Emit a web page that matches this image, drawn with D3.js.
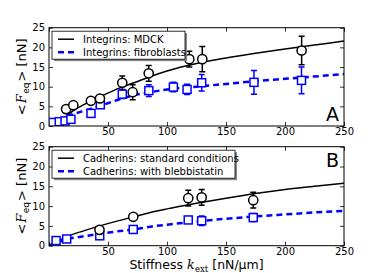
<!DOCTYPE html>
<html>
<head>
<meta charset="utf-8">
<script src="https://cdn.jsdelivr.net/npm/d3@7"></script>
<style>
  body { margin: 0; background: #fff; }
  text { font-family: "DejaVu Sans", sans-serif; }
</style>
</head>
<body>
<div id="container"></div>
<script>
/* CONSTANTS AND GLOBALS */
const width = 382,
  height = 273,
  margin = { left: 49, right: 38 },
  panels = [{ top: 27.7, bottom: 126 }, { top: 146.7, bottom: 245.7 }];

/* DATA */
// panel A - integrins
const mdckK = [14.5, 20.6, 35.5, 43.2, 62.1, 70.9, 84.5, 118.9, 129.9, 214.1];
const mdckF = [4.3, 5.3, 6.4, 7.0, 11.0, 8.6, 13.4, 17.0, 17.0, 19.2];
const mdckErr = [0.3, 0.3, 0.3, 0.4, 1.7, 1.9, 2.0, 2.0, 3.2, 3.6];
const fibroK = [3.1, 8.7, 13.6, 18.6, 35.6, 43.5, 62.1, 84.6, 105.4, 117.0, 129.4, 173.7, 214.0];
const fibroF = [0.9, 1.1, 1.3, 1.7, 3.2, 5.4, 8.1, 9.0, 9.9, 9.3, 11.0, 11.1, 11.6];
const fibroErr = [0.2, 0.2, 0.2, 0.3, 0.4, 0.5, 1.1, 1.5, 1.2, 1.3, 2.1, 3.0, 3.4];
const fitAK = [6, 10, 15, 20, 30, 43, 60, 72, 86, 100, 125, 150, 175, 200, 225, 250];
const fitMdck = [0, 1.2, 2.6, 3.8, 5.5, 7.4, 9.7, 11.0, 12.6, 14.0, 15.9, 17.3, 18.5, 19.6, 20.6, 21.6];
const fitBK = [0, 5, 15, 30, 43, 60, 72, 86, 100, 125, 150, 175, 200, 225, 250];
const fitFibro = [0.3, 1.0, 2.4, 3.9, 5.1, 6.8, 7.8, 8.6, 9.3, 10.0, 10.7, 11.4, 12.0, 12.6, 13.2];

// panel B - cadherins
const stdK = [42.8, 71.4, 118.0, 129.4, 173.1];
const stdF = [4.0, 7.3, 12.0, 12.2, 11.5];
const stdErr = [0.5, 0.4, 2.0, 2.0, 2.0];
const blebK = [6.0, 15.0, 43.0, 71.4, 118.0, 129.4, 173.1];
const blebF = [1.3, 1.7, 2.5, 4.1, 6.5, 6.3, 7.1];
const blebErr = [0.2, 0.2, 0.3, 0.3, 0.7, 1.2, 1.0];
const fitStdK = [0, 15, 30, 43, 60, 72, 86, 100, 125, 150, 175, 200, 225, 250];
const fitStd = [0, 2.3, 3.8, 5.0, 6.4, 7.3, 8.4, 9.3, 10.7, 12.0, 13.2, 14.2, 15.0, 15.8];
const fitBlebK = [0, 15, 30, 43, 60, 72, 86, 100, 125, 150, 175, 200, 225, 250];
const fitBleb = [0, 1.6, 2.4, 3.0, 3.7, 4.1, 4.8, 5.3, 6.1, 6.8, 7.4, 7.9, 8.4, 8.8];

const xTicks = [0, 50, 100, 150, 200, 250];
const xTickLabels = ["", "50", "100", "150", "200", "250"];
const yTicks = [0, 5, 10, 15, 20, 25];

const panelData = [
  {
    tag: "A",
    legend: ["Integrins: MDCK", "Integrins: fibroblasts"],
    circles: mdckK.map((k, i) => ({ k, f: mdckF[i], e: mdckErr[i] })),
    squares: fibroK.map((k, i) => ({ k, f: fibroF[i], e: fibroErr[i] })),
    solid: fitAK.map((k, i) => ({ k, f: fitMdck[i] })),
    dashed: fitBK.map((k, i) => ({ k, f: fitFibro[i] })),
    legendW: 133
  },
  {
    tag: "B",
    legend: ["Cadherins: standard conditions", "Cadherins: with blebbistatin"],
    circles: stdK.map((k, i) => ({ k, f: stdF[i], e: stdErr[i] })),
    squares: blebK.map((k, i) => ({ k, f: blebF[i], e: blebErr[i] })),
    solid: fitStdK.map((k, i) => ({ k, f: fitStd[i] })),
    dashed: fitBlebK.map((k, i) => ({ k, f: fitBleb[i] })),
    legendW: 183
  }
];

const blue = "#0000ff";

/* SCALES */
const xScale = d3.scaleLinear()
  .domain([0, 250])
  .range([margin.left, width - margin.right]);

/* HTML ELEMENTS */
const svg = d3.select("#container")
  .append("svg")
  .attr("width", width)
  .attr("height", height);

// lays out pieces of a label side by side as separate texts, centred on (cx, cy)
function pieceLabel(parent, cx, cy, pieces, rotate) {
  const g = parent.append("g")
    .attr("transform", `translate(${cx},${cy})` + (rotate ? " rotate(-90)" : ""));
  let x = 0;
  const nodes = pieces.map(pc => {
    const t = g.append("text")
      .attr("x", x).attr("y", pc.dy || 0)
      .attr("font-size", pc.size)
      .attr("font-style", pc.italic ? "italic" : null)
      .style("font-family", pc.serif ? "DejaVu Serif, serif" : "DejaVu Sans, sans-serif")
      .text(pc.t);
    x += t.node().getComputedTextLength() + (pc.gap || 0);
    return t;
  });
  nodes.forEach(t => t.attr("x", +t.attr("x") - x / 2));
  return g;
}

panelData.forEach((p, pi) => {
  const box = panels[pi];
  const yScale = d3.scaleLinear()
    .domain([0, 25])
    .range([box.bottom, box.top]);

  const g = svg.append("g");
  const clipId = "clip" + pi;
  g.append("clipPath").attr("id", clipId)
    .append("rect")
    .attr("x", margin.left).attr("y", box.top)
    .attr("width", xScale(250) - margin.left)
    .attr("height", box.bottom - box.top);

  // axes (ticks inward on all four sides)
  const tickLen = 4;
  const xAxis = d3.axisBottom(xScale).tickValues(xTicks)
    .tickFormat((d, i) => xTickLabels[i]).tickSizeInner(-tickLen).tickSizeOuter(0).tickPadding(2);
  const xAxisTop = d3.axisTop(xScale).tickValues(xTicks)
    .tickFormat("").tickSizeInner(-tickLen).tickSizeOuter(0);
  const yAxis = d3.axisLeft(yScale).tickValues(yTicks)
    .tickSizeInner(-tickLen).tickSizeOuter(0).tickPadding(4);
  const yAxisRight = d3.axisRight(yScale).tickValues(yTicks)
    .tickFormat("").tickSizeInner(-tickLen).tickSizeOuter(0);

  [
    [xAxis, `translate(0,${box.bottom})`],
    [xAxisTop, `translate(0,${box.top})`],
    [yAxis, `translate(${margin.left},0)`],
    [yAxisRight, `translate(${xScale(250)},0)`]
  ].forEach(([ax, tr]) => {
    const a = g.append("g").attr("transform", tr).call(ax);
    a.select(".domain").remove();
    a.selectAll("line").attr("stroke", "#000").attr("stroke-width", 0.8);
    a.selectAll("text").attr("font-size", 10).attr("fill", "#000")
      .style("font-family", "DejaVu Sans, sans-serif");
  });

  const plot = g.append("g").attr("clip-path", `url(#${clipId})`);

  const line = d3.line().x(d => xScale(d.k)).y(d => yScale(d.f)).curve(d3.curveMonotoneX);

  plot.append("path").datum(p.solid)
    .attr("d", line).attr("fill", "none")
    .attr("stroke", "#000").attr("stroke-width", 1.5);
  plot.append("path").datum(p.dashed)
    .attr("d", line).attr("fill", "none")
    .attr("stroke", blue).attr("stroke-width", 2.5)
    .attr("stroke-dasharray", "6,4");

  // error bars
  const drawErr = (data, color) => {
    const eb = plot.append("g").attr("stroke", color).attr("stroke-width", 1.5);
    data.forEach(d => {
      const x = xScale(d.k), y0 = yScale(d.f - d.e), y1 = yScale(d.f + d.e);
      eb.append("line").attr("x1", x).attr("x2", x).attr("y1", y0).attr("y2", y1);
      if (d.e > 0.6) {
        eb.append("line").attr("x1", x - 3).attr("x2", x + 3).attr("y1", y0).attr("y2", y0);
        eb.append("line").attr("x1", x - 3).attr("x2", x + 3).attr("y1", y1).attr("y2", y1);
      }
    });
  };
  drawErr(p.squares, blue);
  drawErr(p.circles, "#000");

  plot.selectAll("rect.sq").data(p.squares).join("rect")
    .attr("class", "sq")
    .attr("x", d => xScale(d.k) - 4).attr("y", d => yScale(d.f) - 4)
    .attr("width", 8).attr("height", 8)
    .attr("fill", "#fff").attr("stroke", blue).attr("stroke-width", 1.5);

  plot.selectAll("circle").data(p.circles).join("circle")
    .attr("cx", d => xScale(d.k)).attr("cy", d => yScale(d.f))
    .attr("r", 4.6)
    .attr("fill", "#fff").attr("stroke", "#000").attr("stroke-width", 1.5);

  // frame
  g.append("rect")
    .attr("x", margin.left).attr("y", box.top)
    .attr("width", xScale(250) - margin.left).attr("height", box.bottom - box.top)
    .attr("fill", "none").attr("stroke", "#000").attr("stroke-width", 1);

  // legend with shadow
  const lx = 52, ly = box.top + 3.5, lw = p.legendW, lh = 28;
  g.append("rect").attr("x", lx + 2).attr("y", ly + 2).attr("width", lw).attr("height", lh)
    .attr("fill", "#888");
  g.append("rect").attr("x", lx).attr("y", ly).attr("width", lw).attr("height", lh)
    .attr("fill", "#fff").attr("stroke", "#000").attr("stroke-width", 0.8);
  [[p.legend[0], "#000", 1.5, null], [p.legend[1], blue, 2.5, "6,4"]].forEach(([txt, col, sw, dash], i) => {
    const y = ly + 8 + i * 13;
    g.append("line").attr("x1", lx + 6).attr("x2", lx + 22).attr("y1", y).attr("y2", y)
      .attr("stroke", col).attr("stroke-width", sw).attr("stroke-dasharray", dash);
    g.append("text").attr("x", lx + 31).attr("y", y).attr("dy", "0.35em")
      .attr("font-size", 10).text(txt);
  });

  // panel tag
  g.append("text")
    .attr("x", xScale(250) - 5)
    .attr("y", pi === 0 ? box.bottom - 5 : box.top + 20)
    .attr("text-anchor", "end").attr("font-size", 19).text(p.tag);

  // y label
  pieceLabel(g, 26, (box.top + box.bottom) / 2, [
    { t: "<", size: 13, gap: 1 },
    { t: "F", size: 13, italic: true, serif: true, gap: 0.5 },
    { t: "eq", size: 9, dy: 3, gap: 1 },
    { t: "> [nN]", size: 13 }
  ], true);
});

// x label
pieceLabel(svg, (xScale(0) + xScale(250)) / 2, 269, [
  { t: "Stiffness", size: 12.5, gap: 4 },
  { t: "k", size: 12.5, italic: true, serif: true, gap: 0.5 },
  { t: "ext", size: 8.5, dy: 2.5, serif: true, gap: 4 },
  { t: "[nN/μm]", size: 12.5 }
], false);
</script>
</body>
</html>
